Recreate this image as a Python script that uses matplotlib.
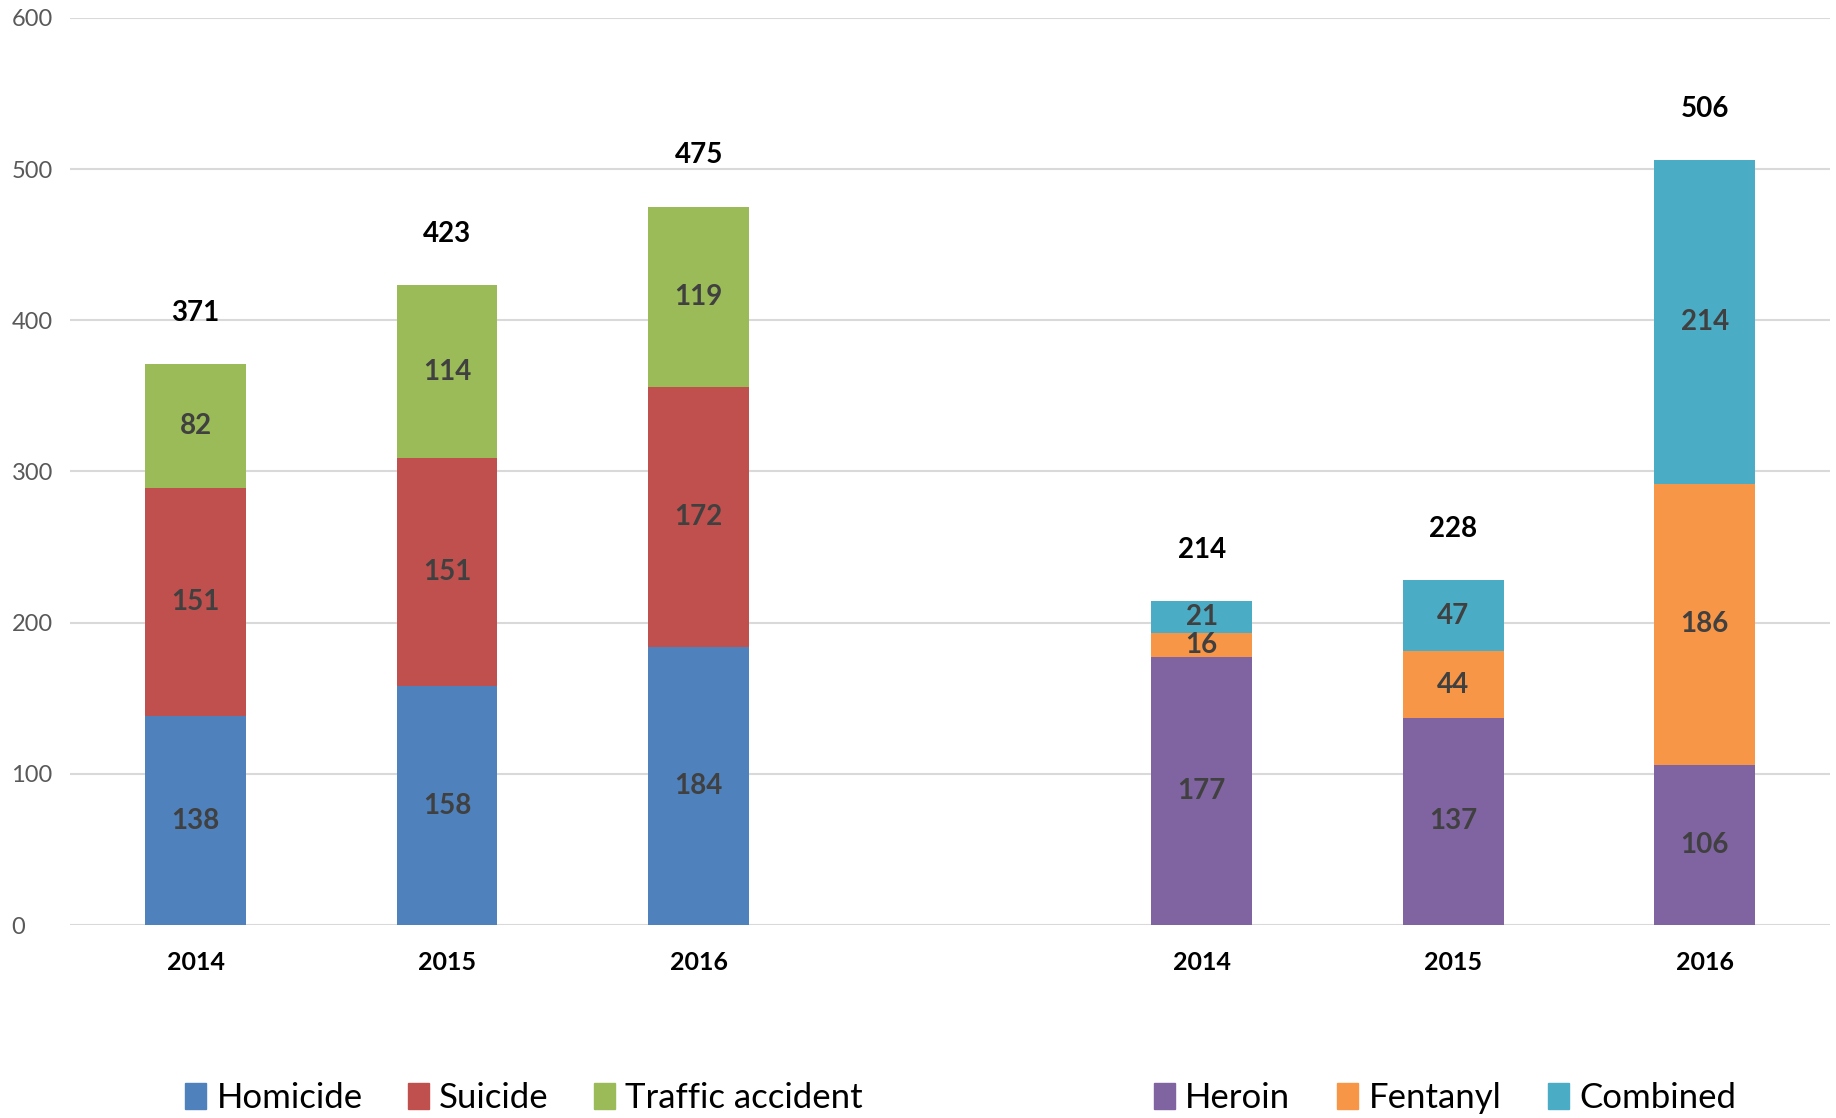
import numpy as np
import matplotlib.pyplot as plt
from matplotlib.patches import Patch

plt.rcParams['font.family'] = ['Lato', 'DejaVu Sans']

years = ['2014', '2015', '2016']

# left group: causes of death
homicide = [138, 158, 184]
suicide = [151, 151, 172]
traffic = [82, 114, 119]

# right group: overdose
heroin = [177, 137, 106]
fentanyl = [16, 44, 186]
combined = [21, 47, 214]

yticks = [0, 100, 200, 300, 400, 500, 600]

colors_left = ['#4f81bd', '#c0504d', '#9bbb59']
colors_right = ['#8064a2', '#f79646', '#4bacc6']

fig = plt.figure(figsize=(18.36, 11.18), dpi=100)
ax = fig.add_axes([0.038, 0.1726, 0.959, 0.8114])

x_left = np.arange(3)
x_right = np.arange(3) + 4
w = 0.4


def stack(xs, series, colors):
    bottom = np.zeros(len(xs))
    for vals, c in zip(series, colors):
        vals = np.array(vals)
        ax.bar(xs, vals, w, bottom=bottom, color=c, zorder=3)
        for x, b, v in zip(xs, bottom, vals):
            ax.text(x, b + v / 2, str(v), ha='center', va='center',
                    fontsize=20, fontweight='bold', color='#404040', zorder=4)
        bottom += vals
    for x, t in zip(xs, bottom):
        ax.text(x, t + 34, str(int(t)), ha='center', va='center',
                fontsize=20, fontweight='bold', color='black', zorder=4)


stack(x_left, [homicide, suicide, traffic], colors_left)
stack(x_right, [heroin, fentanyl, combined], colors_right)

ax.set_xlim(-0.5, 6.5)
ax.set_ylim(0, 600)
ax.set_yticks(yticks)
ax.set_yticklabels([str(t) for t in yticks], fontsize=17, color='#595959')
ax.set_xticks(list(x_left) + list(x_right))
ax.set_xticklabels(years + years, fontsize=18, fontweight='bold')
ax.tick_params(axis='both', length=0)
ax.tick_params(axis='x', pad=19)
ax.tick_params(axis='y', pad=42)
for yl in ax.get_yticklabels():
    yl.set_horizontalalignment('left')
ax.grid(axis='y', color='#d9d9d9', linewidth=1.5, zorder=0)
for s in ax.spines.values():
    s.set_visible(False)

h1 = [Patch(color=c) for c in colors_left]
h2 = [Patch(color=c) for c in colors_right]
fig.legend(h1, ['Homicide', 'Suicide', 'Traffic accident'], loc='center left',
           bbox_to_anchor=(0.084, 0.018), ncol=3, frameon=False, fontsize=25,
           handlelength=0.6, handleheight=0.8, handletextpad=0.3, columnspacing=1.3)
fig.legend(h2, ['Heroin', 'Fentanyl', 'Combined'], loc='center left',
           bbox_to_anchor=(0.6115, 0.018), ncol=3, frameon=False, fontsize=25,
           handlelength=0.6, handleheight=0.8, handletextpad=0.3, columnspacing=1.35)

fig.savefig('out.png', dpi=100)
